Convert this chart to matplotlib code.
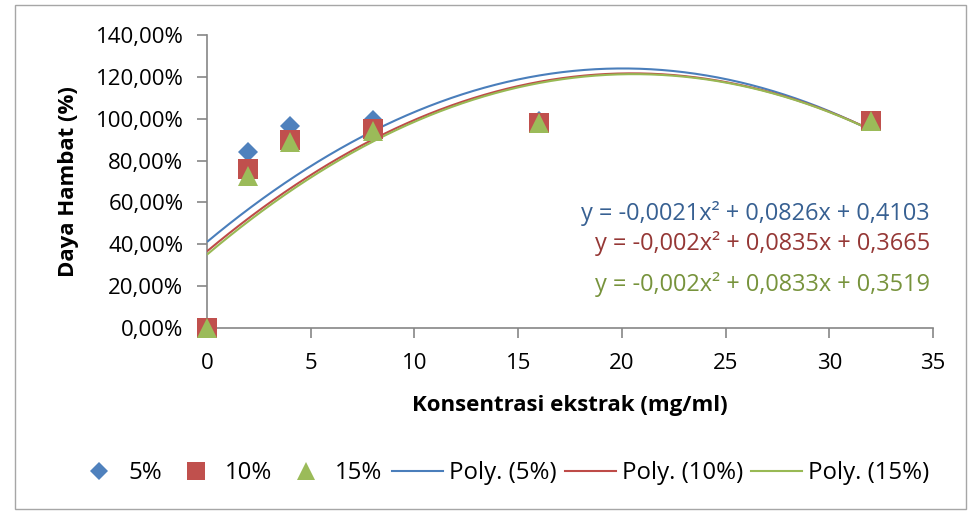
import matplotlib
matplotlib.use("Agg")
import matplotlib.pyplot as plt
import matplotlib.patches as mpatches
from matplotlib.lines import Line2D
from matplotlib.ticker import FuncFormatter, MultipleLocator
import numpy as np

# ---- data ----
concentrations = [0, 2, 4, 8, 16, 32]
series_names = ["5%", "10%", "15%"]
values_5 = [0.0, 0.840, 0.965, 0.995, 0.990, 0.991]
values_10 = [0.0, 0.762, 0.897, 0.953, 0.980, 0.989]
values_15 = [0.0, 0.726, 0.888, 0.943, 0.978, 0.987]
eq_labels = ["y = -0,0021x² + 0,0826x + 0,4103",
             "y = -0,002x² + 0,0835x + 0,3665",
             "y = -0,002x² + 0,0833x + 0,3519"]
x_ticks = [0, 5, 10, 15, 20, 25, 30, 35]
x_label = "Konsentrasi ekstrak (mg/ml)"
y_label = "Daya Hambat (%)"

FONT = "Open Sans"
plt.rcParams["font.family"] = [FONT, "DejaVu Sans"]

W, H = 970, 512
fig = plt.figure(figsize=(W / 100, H / 100), dpi=100)
fig.patch.set_facecolor("white")

fig.patches.append(mpatches.Rectangle((15 / W, 1 - 509 / H), (966 - 15) / W, (509 - 5) / H,
                                      transform=fig.transFigure, fill=False,
                                      edgecolor="#a6a6a6", linewidth=1.0))

L, R, T, B = 207, 933, 35, 328
ax = fig.add_axes([L / W, 1 - B / H, (R - L) / W, (B - T) / H])

marker_colors = ["#4F81BD", "#C0504D", "#9BBB59"]
line_colors = ["#4A7EBB", "#BE4B48", "#98B954"]
text_colors = ["#376092", "#953735", "#77933C"]
markers = ["D", "s", "^"]
msizes = [10.2, 14.8, 15]

all_vals = [values_5, values_10, values_15]

# polynomial (order 2) trendlines, fitted like the spreadsheet does
xs = np.linspace(concentrations[0], concentrations[-1], 300)
for i in range(3):
    coef = np.polyfit(concentrations, all_vals[i], 2)
    ax.plot(xs, np.polyval(coef, xs), color=line_colors[i], lw=1.5, zorder=3,
            solid_capstyle="butt")
for i in range(3):
    ax.plot(concentrations, all_vals[i], linestyle="none", marker=markers[i],
            markersize=msizes[i], color=marker_colors[i], markeredgewidth=0,
            zorder=4 + i, clip_on=False)

ax.set_xlim(0, 35)
ax.set_ylim(0, 1.4)
ax.set_xticks(x_ticks)
ax.yaxis.set_major_locator(MultipleLocator(0.2))
ax.yaxis.set_major_formatter(FuncFormatter(lambda v, p: f"{v*100:.2f}%".replace(".", ",")))

for s in ["top", "right"]:
    ax.spines[s].set_visible(False)
for s in ["left", "bottom"]:
    ax.spines[s].set_color("#868686")
    ax.spines[s].set_linewidth(1.2)
ax.tick_params(axis="both", direction="out", length=7, width=1.2, color="#868686",
               labelsize=16, labelcolor="black")
ax.tick_params(axis="y", pad=10)
ax.tick_params(axis="x", pad=10.8)

ax.set_xlabel(x_label, fontsize=16, fontweight="bold", labelpad=15.4)
ax.set_ylabel(y_label, fontsize=16, fontweight="bold", labelpad=11.8)

eq_y = [0.392, 0.287, 0.147]
for i in range(3):
    ax.text(0.996, eq_y[i], eq_labels[i], transform=ax.transAxes, ha="right", va="center",
            fontsize=16.9, color=text_colors[i])

fs = 17.3
em = fs / 72 * 100
h_mark = [Line2D([], [], linestyle="none", marker=markers[i], color=marker_colors[i],
                 markersize=[9.2, 12.7, 12.7][i], markeredgewidth=0) for i in range(3)]
leg1 = fig.legend(h_mark, series_names, loc="center left",
                  bbox_to_anchor=(87 / W, 1 - 473 / H), ncol=3, frameon=False,
                  fontsize=fs, handlelength=1.0, handletextpad=17 / em, columnspacing=22 / em,
                  borderpad=0, borderaxespad=0)
h_line = [Line2D([], [], color=line_colors[i], lw=1.5) for i in range(3)]
leg2 = fig.legend(h_line, ["Poly. (" + n + ")" for n in series_names], loc="center left",
                  bbox_to_anchor=(392 / W, 1 - 473 / H), ncol=3, frameon=False,
                  fontsize=fs, handlelength=51 / em, handletextpad=6 / em, columnspacing=8 / em,
                  borderpad=0, borderaxespad=0)

fig.savefig("out.png", dpi=100, facecolor="white")
